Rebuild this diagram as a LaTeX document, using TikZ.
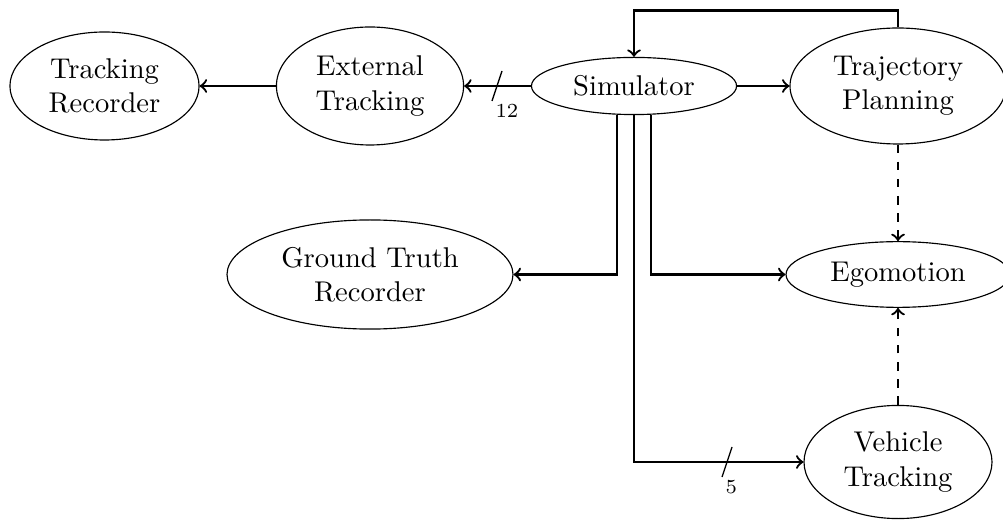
\documentclass[tikz,border=0pt]{standalone}
\usetikzlibrary{shapes.geometric}

\tikzset{
  block/.style={draw, ellipse, line width=0.4pt, inner sep=0pt, align=center, font=\normalsize},
  flow/.style={->, thick},
  soft/.style={->, thick, dashed},
  busmark/.style={line width=0.45pt},
  buslabel/.style={anchor=north west, inner sep=1pt, font=\scriptsize}
}

\begin{document}
\begin{tikzpicture}[x=0.35pt, y=-0.35pt]
  \useasboundingbox (0,0) rectangle (1003,520);

  % processing blocks
  \node[block, minimum width=66.2pt, minimum height=37.8pt] (rec)  at (104.5,86) {Tracking\\Recorder};
  \node[block, minimum width=65.5pt, minimum height=41.3pt] (ext)  at (370,86)   {External\\Tracking};
  \node[block, minimum width=71.8pt, minimum height=20pt]   (sim)  at (634,86)   {Simulator};
  \node[block, minimum width=75.6pt, minimum height=40.6pt] (traj) at (898,86)   {Trajectory\\Planning};
  \node[block, minimum width=100.1pt, minimum height=38.2pt] (gt)  at (370,274.5) {Ground Truth\\Recorder};
  \node[block, minimum width=78.4pt, minimum height=23pt]   (ego)  at (898,274.5) {Egomotion};
  \node[block, minimum width=65.8pt, minimum height=39.6pt] (veh)  at (898,462)  {Vehicle\\Tracking};

  % top row
  \draw[flow] (sim.west) -- (ext.east);
  \draw[flow] (ext.west) -- (rec.east);
  \draw[flow] (sim.east) -- (traj.west);

  % feedback from planning to the simulator
  \draw[flow] (traj.north) -- ++(0,-17) -| (sim.north);

  % outputs of the simulator
  \draw[flow] ([xshift=-5.95pt]sim.south) |- (gt.east);
  \draw[flow] ([xshift=5.95pt]sim.south) |- (ego.west);
  \draw[flow] (sim.south) |- (veh.west);

  % inputs of the egomotion estimate
  \draw[soft] (traj.south) -- (ego.north);
  \draw[soft] (veh.north) -- (ego.south);

  % bus width marks
  \coordinate (b12) at (497,86);
  \draw[busmark] (b12) ++(5,-15) -- ++(-10,30) node[buslabel] {12};
  \coordinate (b5) at (727,462);
  \draw[busmark] (b5) ++(5,-15) -- ++(-10,30) node[buslabel] {5};
\end{tikzpicture}
\end{document}
